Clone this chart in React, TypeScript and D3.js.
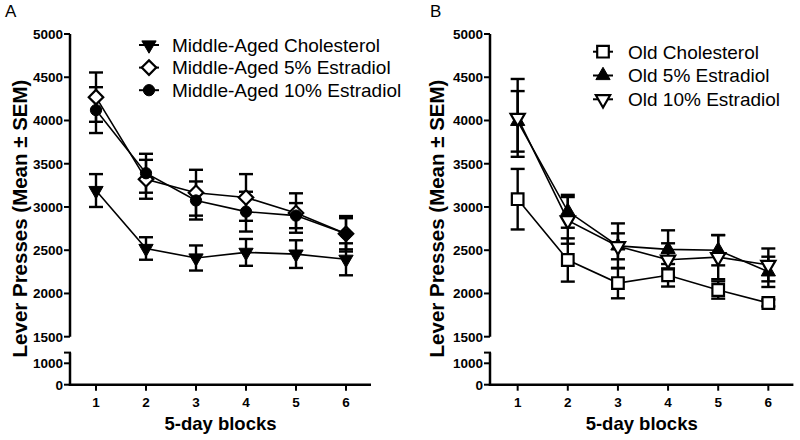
import React from "react";
import * as d3 from "d3";

const blocks = [1, 2, 3, 4, 5, 6];
const upperTicks = [1500, 2000, 2500, 3000, 3500, 4000, 4500, 5000];
const lowerTicks = [0, 1000];

const maCholMean = [3190, 2520, 2410, 2475, 2455, 2395];
const maCholSem = [190, 130, 145, 155, 160, 185];
const ma5Mean = [4270, 3320, 3165, 3110, 2930, 2690];
const ma5Sem = [285, 225, 265, 270, 228, 180];
const ma10Mean = [4120, 3390, 3075, 2946, 2900, 2690];
const ma10Sem = [265, 225, 220, 230, 145, 205];

const oldCholMean = [3090, 2387, 2120, 2210, 2040, 1890];
const oldCholSem = [350, 250, 176, 130, 100, 40];
const old5Mean = [3990, 2950, 2550, 2510, 2500, 2250];
const old5Sem = [350, 190, 260, 220, 175, 175];
const old10Mean = [4030, 2845, 2545, 2390, 2420, 2330];
const old10Sem = [450, 270, 150, 190, 255, 190];

type Shape = "triDown" | "triUp" | "diamond" | "circle" | "square";
interface Series { name: string; mean: number[]; sem: number[]; shape: Shape; filled: boolean; }

const panelA: Series[] = [
  { name: "Middle-Aged Cholesterol", mean: maCholMean, sem: maCholSem, shape: "triDown", filled: true },
  { name: "Middle-Aged 5% Estradiol", mean: ma5Mean, sem: ma5Sem, shape: "diamond", filled: false },
  { name: "Middle-Aged 10% Estradiol", mean: ma10Mean, sem: ma10Sem, shape: "circle", filled: true },
];
const panelB: Series[] = [
  { name: "Old Cholesterol", mean: oldCholMean, sem: oldCholSem, shape: "square", filled: false },
  { name: "Old 5% Estradiol", mean: old5Mean, sem: old5Sem, shape: "triUp", filled: true },
  { name: "Old 10% Estradiol", mean: old10Mean, sem: old10Sem, shape: "triDown", filled: false },
];

const FONT = "'Liberation Sans', Arial, Helvetica, sans-serif";

const yU = d3.scaleLinear().domain([1500, 5000]).range([336.7, 34]);
const yL = d3.scaleLinear().domain([0, 1500]).range([384.7, 352.6]);
const yv = (v: number) => (v >= 1500 ? yU(v) : yL(v));

function symbolPath(shape: Shape): { d: string; rot: number } {
  switch (shape) {
    case "triDown": return { d: d3.symbol(d3.symbolTriangle, 88)()!, rot: 180 };
    case "triUp": return { d: d3.symbol(d3.symbolTriangle, 88)()!, rot: 0 };
    case "diamond": return { d: d3.symbol(d3.symbolSquare, 105)()!, rot: 45 };
    case "circle": return { d: d3.symbol(d3.symbolCircle, 100)()!, rot: 0 };
    case "square": return { d: d3.symbol(d3.symbolSquare, 135)()!, rot: 0 };
  }
}

function Marker({ s, x, y }: { s: Series; x: number; y: number }) {
  const { d, rot } = symbolPath(s.shape);
  return (
    <path d={d} transform={`translate(${x},${y}) rotate(${rot})`}
      fill={s.filled ? "#000" : "#fff"} stroke="#000" strokeWidth={s.filled ? 1 : 2.2} />
  );
}

function Panel({ series, axisX, x0, x1, letter, letterX, labelX, legendMarkX, legendTextX, legendY, legendStep }: any) {
  const x = d3.scaleLinear().domain([0.5, 6.5]).range([x0, x1]);
  const line = d3.line<number>().x((_, i) => x(blocks[i])).y((v) => yv(v));
  const xMid = (axisX + x1) / 2;
  return (
    <g fontFamily={FONT}>
      <text x={letterX} y={17} fontSize={17}>{letter}</text>
      <line x1={axisX} x2={axisX} y1={yU(5000)} y2={yU(1500)} stroke="#000" strokeWidth={2.5} />
      <line x1={axisX} x2={axisX} y1={yL(1500)} y2={yL(0) + 1.2} stroke="#000" strokeWidth={2.5} />
      <line x1={axisX - 6} x2={axisX + 1} y1={yL(1500)} y2={yL(1500)} stroke="#000" strokeWidth={2} />
      {upperTicks.map((t) => (
        <g key={t}>
          <line x1={axisX - 6} x2={axisX} y1={yU(t)} y2={yU(t)} stroke="#000" strokeWidth={2} />
          <text x={axisX - 7} y={yU(t)} dy="0.36em" textAnchor="end" fontSize={13.5} fontWeight="bold">{t}</text>
        </g>
      ))}
      {lowerTicks.map((t) => (
        <g key={t}>
          <line x1={axisX - 6} x2={axisX} y1={yL(t)} y2={yL(t)} stroke="#000" strokeWidth={2} />
          <text x={axisX - 7} y={yL(t)} dy="0.36em" textAnchor="end" fontSize={13.5} fontWeight="bold">{t}</text>
        </g>
      ))}
      <line x1={axisX - 1.2} x2={x1} y1={yL(0)} y2={yL(0)} stroke="#000" strokeWidth={2.5} />
      {blocks.map((b) => (
        <g key={b}>
          <line x1={x(b)} x2={x(b)} y1={yL(0)} y2={yL(0) + 6} stroke="#000" strokeWidth={2} />
          <text x={x(b)} y={407} textAnchor="middle" fontSize={13.5} fontWeight="bold">{b}</text>
        </g>
      ))}
      <text x={xMid} y={430} textAnchor="middle" fontSize={18.5} fontWeight="bold">5-day blocks</text>
      <text transform={`translate(${labelX},218.5) rotate(-90)`} textAnchor="middle" fontSize={20.5} fontWeight="bold">
        Lever Presses (Mean ± SEM)
      </text>
      {series.map((s: Series, k: number) => (
        <path key={"l" + k} d={line(s.mean)!} fill="none" stroke="#000" strokeWidth={1.6} />
      ))}
      {series.map((s: Series, k: number) => (
        <g key={"e" + k}>
          {s.mean.map((m, i) => {
            const cx = x(blocks[i]);
            const top = yv(m + s.sem[i]);
            const bot = yv(m - s.sem[i]);
            return (
              <g key={i} stroke="#000" strokeWidth={2.4}>
                <line x1={cx} x2={cx} y1={top} y2={bot} />
                <line x1={cx - 7} x2={cx + 7} y1={top} y2={top} />
                <line x1={cx - 7} x2={cx + 7} y1={bot} y2={bot} />
              </g>
            );
          })}
        </g>
      ))}
      {series.map((s: Series, k: number) => (
        <g key={"m" + k}>
          {s.mean.map((m, i) => <Marker key={i} s={s} x={x(blocks[i])} y={yv(m)} />)}
        </g>
      ))}
      {series.map((s: Series, k: number) => {
        const ly = legendY + k * legendStep;
        return (
          <g key={"lg" + k}>
            <line x1={legendMarkX - 10} x2={legendMarkX + 10} y1={ly} y2={ly} stroke="#000" strokeWidth={2} />
            <Marker s={s} x={legendMarkX} y={ly} />
            <text x={legendTextX} y={ly} dy="0.36em" fontSize={19}>{s.name}</text>
          </g>
        );
      })}
    </g>
  );
}

export default function App() {
  return (
    <svg width={800} height={440} style={{ position: "absolute", left: 0, top: 0, background: "#fff" }}>
      <rect width={800} height={440} fill="#fff" />
      <Panel series={panelA} axisX={70} x0={71} x1={371} letter="A" letterX={5} labelX={27}
        legendMarkX={149} legendTextX={172} legendY={45} legendStep={22.6} />
      <Panel series={panelB} axisX={490} x0={492.6} x1={793.4} letter="B" letterX={430} labelX={444}
        legendMarkX={603} legendTextX={628} legendY={51.7} legendStep={23.8} />
    </svg>
  );
}
